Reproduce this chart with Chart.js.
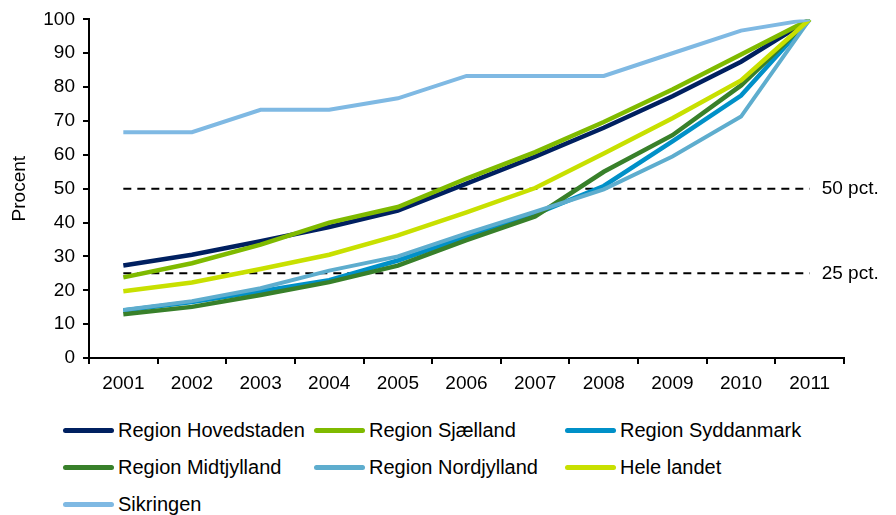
<!DOCTYPE html>
<html lang="da">
<head>
    <meta charset="UTF-8">
    <title>Procent 2001-2011</title>
    <style>
        body { margin: 0; background: #fff; font-family: "Liberation Sans", Arial, sans-serif; }
        #wrap { position: relative; width: 896px; height: 515px; overflow: hidden; }
        #myChart { position: absolute; left: 0; top: 0; }
        #legend { position: absolute; left: 63px; top: 418px; display: grid; grid-template-columns: 251px 251px 251px; row-gap: 13px; }
        .item { display: flex; align-items: center; height: 24px; font-size: 20px; color: #000; white-space: nowrap; }
        .item span.swatch { display: inline-block; width: 51px; height: 5px; border-radius: 3px; margin-right: 4px; }
    </style>
</head>
<body>

<div id="wrap">
    <canvas id="myChart" width="896" height="400"></canvas>
    <div id="legend"></div>
</div>

<script src="https://cdn.jsdelivr.net/npm/chart.js@4/dist/chart.umd.min.js"></script>

<script>
    var years = ['2001', '2002', '2003', '2004', '2005', '2006', '2007', '2008', '2009', '2010', '2011'];

    var hovedstaden = [27.3, 30.5, 34.5, 38.7, 43.5, 51.5, 59.5, 68.0, 77.3, 87.5, 100];
    var sjaelland   = [23.8, 28.0, 33.5, 40.0, 44.6, 53.0, 60.8, 69.7, 79.3, 89.6, 100];
    var syddanmark  = [14.0, 16.5, 19.7, 23.0, 28.8, 35.8, 42.5, 50.8, 64.0, 77.5, 100];
    var midtjylland = [12.9, 15.1, 18.6, 22.4, 27.3, 34.8, 41.8, 55.0, 65.8, 80.5, 100];
    var nordjylland = [14.2, 16.8, 20.6, 25.8, 30.0, 36.8, 43.2, 49.8, 59.5, 71.3, 100];
    var heleLandet  = [19.7, 22.3, 26.3, 30.5, 36.2, 43.0, 50.2, 60.4, 70.8, 82.0, 100];
    var sikringen   = [66.7, 66.7, 73.3, 73.3, 76.7, 83.3, 83.3, 83.3, 90.0, 96.7, 100];

    // reference levels drawn as dashed lines
    var refLevels = [50, 25];
    var refLabels = ['50 pct.', '25 pct.'];

    var seriesNames = ['Region Hovedstaden', 'Region Sjælland', 'Region Syddanmark',
                       'Region Midtjylland', 'Region Nordjylland', 'Hele landet', 'Sikringen'];
    var seriesData = [hovedstaden, sjaelland, syddanmark, midtjylland, nordjylland, heleLandet, sikringen];
    var seriesColors = ['#002060', '#7fba00', '#0090c8', '#38802a', '#5eadce', '#c8e000', '#7fb9e3'];
    var seriesWidths = [4.5, 4.5, 4.5, 4.5, 4, 4.5, 4];

    var FONT = '"Liberation Sans", Arial, sans-serif';

    var datasets = [];
    for (var i = 0; i < seriesNames.length; i++) {
        datasets.push({
            label: seriesNames[i],
            data: seriesData[i],
            borderColor: seriesColors[i],
            backgroundColor: seriesColors[i],
            borderWidth: seriesWidths[i],
            pointRadius: 0,
            tension: 0,
            order: seriesNames.length - i
        });
    }
    for (var j = 0; j < refLevels.length; j++) {
        datasets.push({
            label: refLabels[j],
            data: years.map(function () { return refLevels[j]; }),
            borderColor: '#000',
            borderWidth: 2,
            borderDash: [8, 6],
            pointRadius: 0,
            order: 20,
            isRef: true
        });
    }

    // text at the right end of the dashed lines
    var refText = {
        id: 'refText',
        afterDatasetsDraw: function (chart) {
            var ctx = chart.ctx;
            var x = chart.scales.x.getPixelForValue(years.length - 1) + 12;
            ctx.save();
            ctx.font = '19px ' + FONT;
            ctx.fillStyle = '#000';
            ctx.textBaseline = 'middle';
            for (var k = 0; k < refLevels.length; k++) {
                ctx.fillText(refLabels[k], x, chart.scales.y.getPixelForValue(refLevels[k]));
            }
            ctx.restore();
        }
    };

    var ctx = document.getElementById('myChart').getContext('2d');
    var myChart = new Chart(ctx, {
        type: 'line',
        data: { labels: years, datasets: datasets },
        options: {
            responsive: false,
            animation: false,
            devicePixelRatio: 1,
            layout: { padding: { left: 0, right: 52, top: 19, bottom: 0 } },
            plugins: { legend: { display: false }, tooltip: { enabled: false } },
            scales: {
                x: {
                    offset: true,
                    grid: { offset: true, drawOnChartArea: false, drawTicks: true, tickLength: 6, color: '#000', lineWidth: 2 },
                    border: { display: true, color: '#000', width: 2 },
                    ticks: { color: '#000', font: { family: FONT, size: 19 }, padding: 8, maxRotation: 0 },
                    afterFit: function (scale) { scale.height = 42; }
                },
                y: {
                    min: 0,
                    max: 100,
                    grid: { drawOnChartArea: false, drawTicks: true, tickLength: 6, color: '#000', lineWidth: 2 },
                    border: { display: true, color: '#000', width: 2 },
                    ticks: { stepSize: 10, color: '#000', font: { family: FONT, size: 19 }, padding: 8 },
                    title: { display: true, text: 'Procent', color: '#000', font: { family: FONT, size: 19 }, padding: { top: 8, bottom: 0 } },
                    afterFit: function (scale) { scale.width = 89; }
                }
            }
        },
        plugins: [refText]
    });

    // legend below the chart, three per row
    var legendEl = document.getElementById('legend');
    myChart.data.datasets.forEach(function (ds) {
        if (ds.isRef) return;
        var item = document.createElement('div');
        item.className = 'item';
        var sw = document.createElement('span');
        sw.className = 'swatch';
        sw.style.background = ds.borderColor;
        item.appendChild(sw);
        item.appendChild(document.createTextNode(ds.label));
        legendEl.appendChild(item);
    });
</script>

</body>
</html>
